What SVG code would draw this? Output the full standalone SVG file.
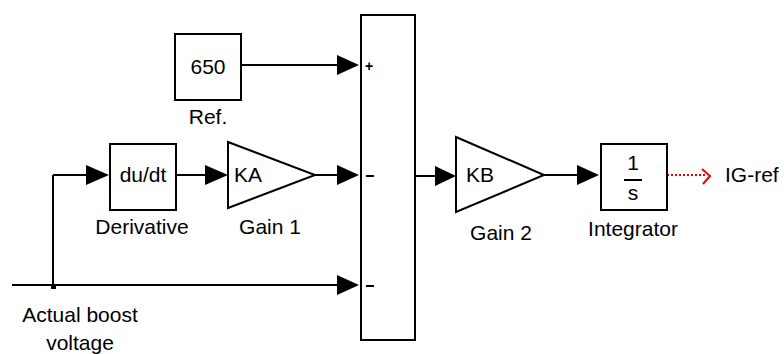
<svg xmlns="http://www.w3.org/2000/svg" width="784" height="354" viewBox="0 0 784 354">
<defs>
<style>
.blk{fill:#fff;stroke:#000;stroke-width:2}
.ln{fill:none;stroke:#000;stroke-width:2}
.tk{fill:none;stroke:#000;stroke-width:3}
.arr{fill:#000;stroke:none}
text{font-family:"Liberation Sans",Arial,sans-serif;font-size:21px;fill:#000}
.c{text-anchor:middle}
.sg{font-size:14px;font-weight:bold}
</style>
</defs>
<rect width="784" height="354" fill="#fff"/>
<g id="connectors">
<line class="ln" x1="241" y1="65" x2="338" y2="65"/>
<polygon class="arr" points="337,55 359,65 337,75"/>
<line class="ln" x1="53" y1="175" x2="86" y2="175"/>
<line class="ln" x1="53" y1="175" x2="53" y2="287"/>
<polygon class="arr" points="86,165 109,175 86,185"/>
<line class="ln" x1="176" y1="175" x2="206" y2="175"/>
<polygon class="arr" points="205,165 228,175 205,185"/>
<line class="ln" x1="315" y1="175" x2="338" y2="175"/>
<polygon class="arr" points="337,165 359,175 337,185"/>
<line class="ln" x1="12" y1="285" x2="338" y2="285"/>
<polygon class="arr" points="337,275 359,285 337,295"/>
<rect x="51" y="284" width="5" height="5" fill="#000"/>
<line class="ln" x1="415" y1="176" x2="436" y2="176"/>
<polygon class="arr" points="435,166 456,176 435,186"/>
<line class="ln" x1="544" y1="175" x2="578" y2="175"/>
<polygon class="arr" points="577,165 599,175 577,185"/>
<line x1="667" y1="175" x2="706" y2="175" stroke="#e00" stroke-width="2" stroke-dasharray="2,2"/>
<polyline points="702,169 710,176 703,184" fill="none" stroke="#e00" stroke-width="2"/>
</g>
<g id="ref">
<rect class="blk" x="175" y="34" width="66" height="66"/>
<text class="c" x="208" y="74">650</text>
<text class="c" x="208" y="124">Ref.</text>
</g>
<g id="derivative">
<rect class="blk" x="110" y="144" width="66" height="66"/>
<text class="c" x="143" y="182">du/dt</text>
<text class="c" x="142" y="234">Derivative</text>
</g>
<g id="gain1">
<polygon class="blk" points="228,142 315,175 228,208"/>
<text x="234" y="182">KA</text>
<text class="c" x="270" y="234">Gain 1</text>
</g>
<g id="sum">
<rect class="blk" x="361" y="15" width="54" height="325"/>
<text class="sg" x="365" y="71">+</text>
<line class="ln" x1="366" y1="176" x2="374" y2="176"/>
<line class="ln" x1="366" y1="286" x2="374" y2="286"/>
</g>
<g id="gain2">
<polygon class="blk" points="456,137 544,175 456,212"/>
<text x="466" y="182">KB</text>
<text class="c" x="501" y="240">Gain 2</text>
</g>
<g id="integrator">
<rect class="blk" x="601" y="144" width="66" height="66"/>
<text class="c" x="633" y="170">1</text>
<line class="ln" x1="624" y1="180" x2="642" y2="180"/>
<text class="c" x="633" y="200">s</text>
<text class="c" x="633" y="236">Integrator</text>
</g>
<g id="output">
<text x="725" y="182">IG-ref</text>
</g>
<g id="input">
<text class="c" x="80" y="322">Actual boost</text>
<text class="c" x="80" y="350">voltage</text>
</g>
</svg>
